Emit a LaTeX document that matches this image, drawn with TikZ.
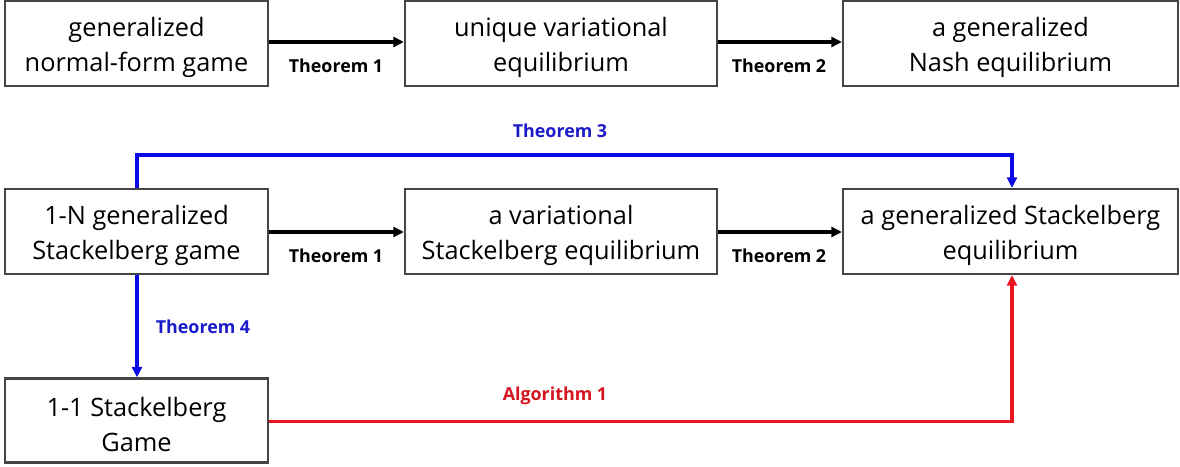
\documentclass[tikz,border=0pt]{standalone}
\usepackage{fontspec}
\setmainfont{Open Sans}
\usetikzlibrary{arrows.meta}
\definecolor{boxline}{HTML}{454545}
\definecolor{tblue}{HTML}{0A0AE6}
\definecolor{tbluetext}{HTML}{1A1AC8}
\definecolor{tred}{HTML}{E8141E}
\definecolor{tredtext}{HTML}{D4141E}
\newcommand{\tp}{\rule{0pt}{20pt}}
\tikzset{
  box/.style={draw=boxline, line width=1.6pt, rectangle, align=center,
    font=\fontsize{19}{26.5}\selectfont, inner sep=0pt},
  arr/.style={line width=2.3pt, -{Triangle[length=8pt,width=7.5pt]}},
  carr/.style={arr, line width=2.6pt},
  lbl/.style={font=\fontsize{13.4}{15}\selectfont\bfseries, inner sep=0pt}
}
\begin{document}
\begin{tikzpicture}[x=0.75pt,y=-0.75pt]
\useasboundingbox (0,0) rectangle (1180,467);
% top row
\node[box, minimum width=263*0.75pt, minimum height=85*0.75pt] (a1) at (136.5,43.5) {\tp generalized\\normal-form game};
\node[box, minimum width=312*0.75pt, minimum height=85*0.75pt] (a2) at (561,43.5) {\tp unique variational\\equilibrium};
\node[box, minimum width=335*0.75pt, minimum height=85*0.75pt] (a3) at (1010.5,43.5) {\tp a generalized\\Nash equilibrium};
% middle row
\node[box, minimum width=263*0.75pt, minimum height=85*0.75pt] (b1) at (136.5,231.5) {\tp 1-N generalized\\Stackelberg game};
\node[box, minimum width=312*0.75pt, minimum height=85*0.75pt] (b2) at (561,231.5) {\tp a variational\\Stackelberg equilibrium};
\node[box, minimum width=335*0.75pt, minimum height=85*0.75pt] (b3) at (1010.5,231.5) {\tp a generalized Stackelberg\\equilibrium};
% bottom
\node[box, minimum width=263*0.75pt, minimum height=84*0.75pt] (c1) at (136.5,420.5) {\tp 1-1 Stackelberg\\Game};

% black arrows
\draw[arr] (a1.east |- 0,42) -- (a2.west |- 0,42);
\draw[arr] (a2.east |- 0,42) -- (a3.west |- 0,42);
\draw[arr] (b1.east |- 0,232) -- (b2.west |- 0,232);
\draw[arr] (b2.east |- 0,232) -- (b3.west |- 0,232);
\node[lbl] (l1) at (336,66) {Theorem 1};
\node[lbl] (l2) at (779,66) {Theorem 2};
\node[lbl] (l3) at (336,256) {Theorem 1};
\node[lbl] (l4) at (779,256) {Theorem 2};

% blue arrows
\coordinate (t3a) at (137,155);
\coordinate (t3b) at (1012,155);
\draw[carr, tblue] (b1.north -| t3a) -- (t3a) -- (t3b) -- (b3.north -| t3b);
\node[lbl, text=tbluetext] (l5) at (560,131) {Theorem 3};
\draw[carr, tblue] (b1.south -| t3a) -- (c1.north -| t3a);
\node[lbl, text=tbluetext] (l6) at (203,327) {Theorem 4};

% red arrow
\coordinate (r1) at (1012,421.5);
\draw[carr, tred] (c1.east |- r1) -- (r1) -- (b3.south -| r1);
\node[lbl, text=tredtext] (l7) at (555,396) {Algorithm 1};
\end{tikzpicture}
\end{document}
